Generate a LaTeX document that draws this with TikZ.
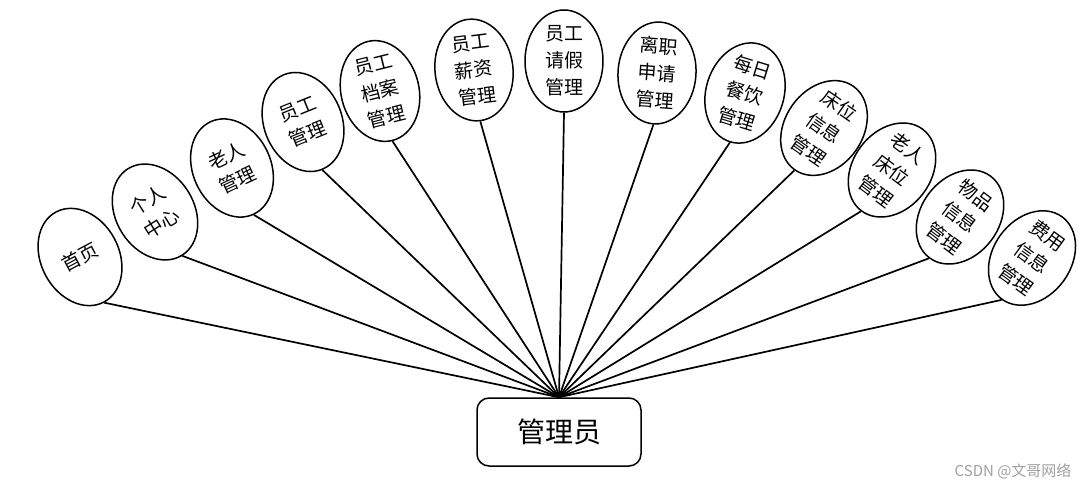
\documentclass[tikz,border=0pt]{standalone}
\usepackage{fontspec}
\setmainfont{Noto Sans CJK SC}
\usetikzlibrary{shapes.geometric}

\begin{document}
\begin{tikzpicture}[x=1pt,y=-1pt,
    func/.style={draw,ellipse,line width=1.5pt,fill=white,inner sep=0pt,
      minimum width=78pt,minimum height=102pt,align=center,
      font=\fontsize{19}{27}\selectfont},
    role/.style={draw,rounded corners=12pt,line width=1.5pt,fill=white,
      minimum width=164pt,minimum height=68pt,font=\fontsize{28}{30}\selectfont},
    link/.style={line width=1.7pt}]
    \useasboundingbox (0,0) rectangle (1089,489);
    \node[role] (admin) at (559,432) {管理员};
    \foreach \x/\y/\ang/\lab [count=\i] in {
        80/257/28/首页,
        155/212/32/{个人\\中心},
        232/168/25/{老人\\管理},
        303/122/22/{员工\\管理},
        380/91/14/{员工\\档案\\管理},
        474/70/7/{员工\\薪资\\管理},
        564/61/0/{员工\\请假\\管理},
        657/73/-4/{离职\\申请\\管理},
        745/93/-17/{每日\\餐饮\\管理},
        824/128/-35/{床位\\信息\\管理},
        892/170/-37/{老人\\床位\\管理},
        960/217/-37/{物品\\信息\\管理},
        1032/258/-36/{费用\\信息\\管理}}{
      \node[func,rotate=\ang] (f\i) at (\x,\y) {\lab};
      \draw[link] (f\i.south) -- (admin.north);}
    \node[text=gray!75,anchor=east,font=\fontsize{15}{15}\selectfont] (mark) at (1075,471) {CSDN @文哥网络};
  \end{tikzpicture}
\end{document}
